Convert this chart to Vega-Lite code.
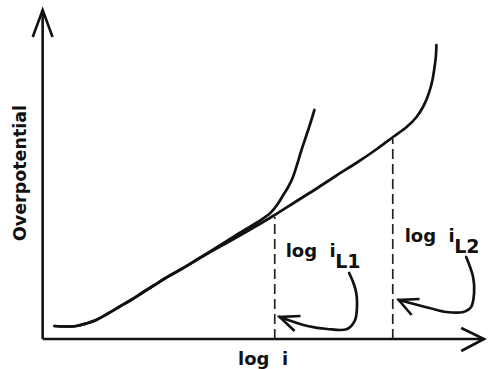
{
  "$schema": "https://vega.github.io/schema/vega-lite/v6.json",
  "width": 490,
  "height": 369,
  "autosize": {"type": "fit", "contains": "padding"},
  "padding": 0,
  "config": {"view": {"stroke": null}},
  "datasets": {
    "curves": [
      {"s": "curve1", "i": 1, "x": 12, "y": 13},
      {"s": "curve1", "i": 2, "x": 23, "y": 12.5},
      {"s": "curve1", "i": 3, "x": 34, "y": 13},
      {"s": "curve1", "i": 4, "x": 44, "y": 15.5},
      {"s": "curve1", "i": 5, "x": 54, "y": 19},
      {"s": "curve1", "i": 6, "x": 65, "y": 25},
      {"s": "curve1", "i": 7, "x": 77, "y": 32},
      {"s": "curve1", "i": 8, "x": 89, "y": 39},
      {"s": "curve1", "i": 9, "x": 100, "y": 46},
      {"s": "curve1", "i": 10, "x": 112, "y": 53.5},
      {"s": "curve1", "i": 11, "x": 124, "y": 61},
      {"s": "curve1", "i": 12, "x": 140, "y": 70},
      {"s": "curve1", "i": 13, "x": 155, "y": 79},
      {"s": "curve1", "i": 14, "x": 177, "y": 92.5},
      {"s": "curve1", "i": 15, "x": 197, "y": 105},
      {"s": "curve1", "i": 16, "x": 217, "y": 117},
      {"s": "curve1", "i": 17, "x": 229, "y": 125.5},
      {"s": "curve1", "i": 18, "x": 234, "y": 131},
      {"s": "curve1", "i": 19, "x": 238, "y": 136.5},
      {"s": "curve1", "i": 20, "x": 242, "y": 143},
      {"s": "curve1", "i": 21, "x": 247, "y": 151},
      {"s": "curve1", "i": 22, "x": 252, "y": 161},
      {"s": "curve1", "i": 23, "x": 257, "y": 176},
      {"s": "curve1", "i": 24, "x": 260, "y": 186},
      {"s": "curve1", "i": 25, "x": 265, "y": 201},
      {"s": "curve1", "i": 26, "x": 270, "y": 216},
      {"s": "curve1", "i": 27, "x": 274, "y": 229},
      {"s": "curve2", "i": 1, "x": 12, "y": 13},
      {"s": "curve2", "i": 2, "x": 23, "y": 12.5},
      {"s": "curve2", "i": 3, "x": 34, "y": 13},
      {"s": "curve2", "i": 4, "x": 44, "y": 15.5},
      {"s": "curve2", "i": 5, "x": 54, "y": 19},
      {"s": "curve2", "i": 6, "x": 65, "y": 25},
      {"s": "curve2", "i": 7, "x": 77, "y": 32},
      {"s": "curve2", "i": 8, "x": 89, "y": 39},
      {"s": "curve2", "i": 9, "x": 100, "y": 46},
      {"s": "curve2", "i": 10, "x": 112, "y": 53.5},
      {"s": "curve2", "i": 11, "x": 124, "y": 61},
      {"s": "curve2", "i": 12, "x": 140, "y": 70},
      {"s": "curve2", "i": 13, "x": 155, "y": 79},
      {"s": "curve2", "i": 14, "x": 177, "y": 91.5},
      {"s": "curve2", "i": 15, "x": 197, "y": 102.5},
      {"s": "curve2", "i": 16, "x": 217, "y": 114},
      {"s": "curve2", "i": 17, "x": 234, "y": 124},
      {"s": "curve2", "i": 18, "x": 257, "y": 138.5},
      {"s": "curve2", "i": 19, "x": 277, "y": 151},
      {"s": "curve2", "i": 20, "x": 297, "y": 164},
      {"s": "curve2", "i": 21, "x": 317, "y": 176.5},
      {"s": "curve2", "i": 22, "x": 337, "y": 190},
      {"s": "curve2", "i": 23, "x": 354, "y": 202.5},
      {"s": "curve2", "i": 24, "x": 367, "y": 212},
      {"s": "curve2", "i": 25, "x": 377, "y": 222},
      {"s": "curve2", "i": 26, "x": 384, "y": 233},
      {"s": "curve2", "i": 27, "x": 388, "y": 242},
      {"s": "curve2", "i": 28, "x": 391, "y": 251},
      {"s": "curve2", "i": 29, "x": 393, "y": 259},
      {"s": "curve2", "i": 30, "x": 395, "y": 271},
      {"s": "curve2", "i": 31, "x": 396.5, "y": 283},
      {"s": "curve2", "i": 32, "x": 397, "y": 294},
      {"s": "arrow1", "i": 1, "x": 309, "y": 66},
      {"s": "arrow1", "i": 2, "x": 313, "y": 57},
      {"s": "arrow1", "i": 3, "x": 316, "y": 47},
      {"s": "arrow1", "i": 4, "x": 317, "y": 36},
      {"s": "arrow1", "i": 5, "x": 315, "y": 19},
      {"s": "arrow1", "i": 6, "x": 307, "y": 10},
      {"s": "arrow1", "i": 7, "x": 287, "y": 10},
      {"s": "arrow1", "i": 8, "x": 267, "y": 13},
      {"s": "arrow1", "i": 9, "x": 239, "y": 22},
      {"s": "arrow2", "i": 1, "x": 427, "y": 82},
      {"s": "arrow2", "i": 2, "x": 434, "y": 62},
      {"s": "arrow2", "i": 3, "x": 435, "y": 46},
      {"s": "arrow2", "i": 4, "x": 432, "y": 32},
      {"s": "arrow2", "i": 5, "x": 424, "y": 27},
      {"s": "arrow2", "i": 6, "x": 407, "y": 27},
      {"s": "arrow2", "i": 7, "x": 390, "y": 31},
      {"s": "arrow2", "i": 8, "x": 359, "y": 39}
    ],
    "polylines": [
      {"s": "yaxis", "i": 1, "x": 0, "y": 0},
      {"s": "yaxis", "i": 2, "x": 0, "y": 329},
      {"s": "yhead", "i": 1, "x": -10, "y": 302},
      {"s": "yhead", "i": 2, "x": 0, "y": 329},
      {"s": "yhead", "i": 3, "x": 10, "y": 302},
      {"s": "xaxis", "i": 1, "x": 0, "y": 0},
      {"s": "xaxis", "i": 2, "x": 445, "y": 0},
      {"s": "xhead", "i": 1, "x": 422, "y": 11},
      {"s": "xhead", "i": 2, "x": 445, "y": 0},
      {"s": "xhead", "i": 3, "x": 422, "y": -12},
      {"s": "head1", "i": 1, "x": 260, "y": 23},
      {"s": "head1", "i": 2, "x": 239, "y": 22},
      {"s": "head1", "i": 3, "x": 254, "y": 8},
      {"s": "head2", "i": 1, "x": 380, "y": 40},
      {"s": "head2", "i": 2, "x": 359, "y": 39},
      {"s": "head2", "i": 3, "x": 372, "y": 24}
    ],
    "dashes": [
      {"x": 234, "y": 0, "y2": 122},
      {"x": 353, "y": 0, "y2": 200}
    ],
    "labels": [
      {"t": "log\u00a0\u00a0i", "x": 197, "y": -26, "size": 18},
      {"t": "log\u00a0\u00a0i", "x": 245, "y": 82, "size": 18},
      {"t": "L1", "x": 295, "y": 71, "size": 19},
      {"t": "log\u00a0\u00a0i", "x": 365, "y": 97, "size": 18},
      {"t": "L2", "x": 415, "y": 86, "size": 19}
    ],
    "ytitle": [
      {"t": "Overpotential", "x": -16.5, "y": 166}
    ]
  },
  "encoding": {
    "x": {"field": "x", "type": "quantitative", "scale": {"domain": [-43, 447], "nice": false, "zero": false}, "axis": null},
    "y": {"field": "y", "type": "quantitative", "scale": {"domain": [-30, 339], "nice": false, "zero": false}, "axis": null}
  },
  "layer": [
    {
      "data": {"name": "dashes"},
      "mark": {"type": "rule", "color": "#222", "strokeWidth": 1.7, "strokeDash": [10, 5]},
      "encoding": {"y2": {"field": "y2"}}
    },
    {
      "data": {"name": "curves"},
      "mark": {"type": "line", "interpolate": "catmull-rom", "color": "#111", "strokeWidth": 2.7, "strokeCap": "round"},
      "encoding": {"detail": {"field": "s"}, "order": {"field": "i", "type": "quantitative"}}
    },
    {
      "data": {"name": "polylines"},
      "mark": {"type": "line", "interpolate": "linear", "color": "#111", "strokeWidth": 2.6, "strokeJoin": "miter", "strokeCap": "butt"},
      "encoding": {"detail": {"field": "s"}, "order": {"field": "i", "type": "quantitative"}}
    },
    {
      "data": {"name": "labels"},
      "mark": {"type": "text", "align": "left", "baseline": "alphabetic", "font": "DejaVu Sans", "fontWeight": "bold", "color": "#111"},
      "encoding": {"text": {"field": "t"}, "size": {"field": "size", "type": "quantitative", "scale": null}}
    },
    {
      "data": {"name": "ytitle"},
      "mark": {"type": "text", "align": "center", "baseline": "alphabetic", "angle": 270, "font": "DejaVu Sans", "fontWeight": "bold", "fontSize": 17.5, "color": "#111"},
      "encoding": {"text": {"field": "t"}}
    }
  ]
}
